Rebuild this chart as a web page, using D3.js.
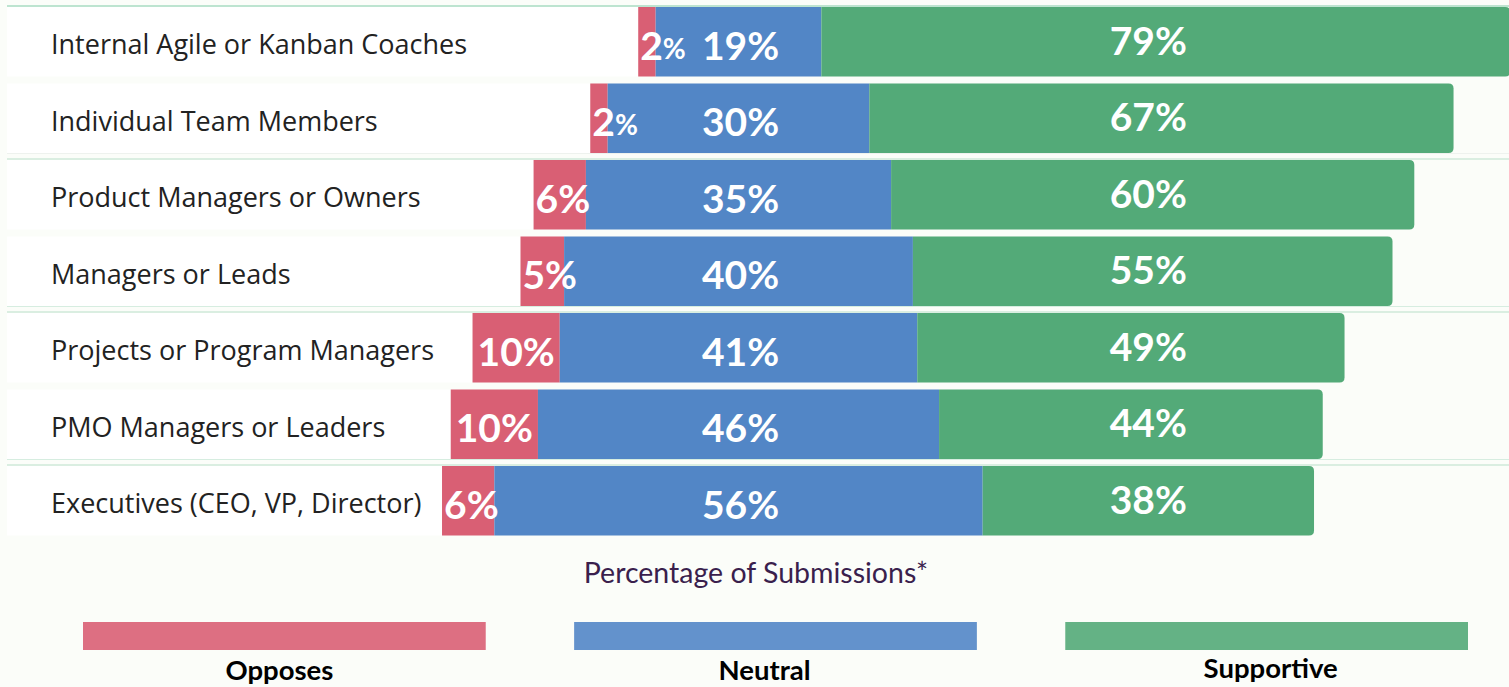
<!DOCTYPE html>
<html>
<head>
<meta charset="utf-8">
<script src="https://cdn.jsdelivr.net/npm/d3@7"></script>
<style>
  html, body { margin: 0; padding: 0; background: #fbfdf9; }
  svg { display: block; }
</style>
</head>
<body>
<svg id="chart" width="1509" height="687"></svg>
<script>
// ---- data ----
const categories = [
  "Internal Agile or Kanban Coaches",
  "Individual Team Members",
  "Product Managers or Owners",
  "Managers or Leads",
  "Projects or Program Managers",
  "PMO Managers or Leaders",
  "Executives (CEO, VP, Director)"
];
const opposes    = [2, 2, 6, 5, 10, 10, 6];
const neutral    = [19, 30, 35, 40, 41, 46, 56];
const supportive = [79, 67, 60, 55, 49, 44, 38];
const seriesNames = ["Opposes", "Neutral", "Supportive"];
const axisTitle = "Percentage of Submissions*";

// ---- styles ----
const colors = { Opposes: "#d95f74", Neutral: "#5286c6", Supportive: "#53aa78" };
const W = 1509, H = 687;
const svg = d3.select("#chart");

svg.append("rect").attr("width", W).attr("height", H).attr("fill", "#fbfdf9");

const rows = categories.map((c, i) => ({
  cat: c, opp: opposes[i], neu: neutral[i], sup: supportive[i], i
}));

const y = d3.scaleBand().domain(categories).range([7, 535.5]).paddingInner(0.0915).paddingOuter(0);
const x = d3.scaleLinear().domain([-60, 90]).range([738.5 - 60 * 8.72, 738.5 + 90 * 8.72]);

// row white bands
svg.append("g").selectAll("rect").data(rows).join("rect")
  .attr("x", 7)
  .attr("y", d => y(d.cat))
  .attr("width", d => x(-d.neu / 2 - d.opp) - 7)
  .attr("height", y.bandwidth())
  .attr("fill", "#ffffff");

// separator lines
const sep = svg.append("g");
sep.append("line").attr("x1", 7).attr("x2", W).attr("y1", y(categories[0]) - 1).attr("y2", y(categories[0]) - 1)
  .attr("stroke", "#a9dbc2").attr("stroke-width", 1.5);
[1, 3, 5].forEach(i => {
  const b = y(categories[i]) + y.bandwidth();
  const t = y(categories[i + 1]);
  sep.append("line").attr("x1", 7).attr("x2", W).attr("y1", b + 0.5).attr("y2", b + 0.5)
    .attr("stroke", i === 1 ? "#eef2ee" : "#d6ede0").attr("stroke-width", 1);
  sep.append("line").attr("x1", 7).attr("x2", W).attr("y1", t - 1).attr("y2", t - 1)
    .attr("stroke", "#cfe8d9").attr("stroke-width", 1.5);
});

// category labels
svg.append("g").selectAll("text").data(rows).join("text")
  .attr("x", 51)
  .attr("y", d => y(d.cat) + y.bandwidth() / 2 + 2)
  .attr("dominant-baseline", "central")
  .attr("font-family", "'Open Sans', Lato, sans-serif")
  .attr("font-size", 27)
  .attr("fill", "#222222")
  .text(d => d.cat);

// bars
const bars = svg.append("g");
bars.selectAll(".opp").data(rows).join("rect").attr("class", "opp")
  .attr("x", d => x(-d.neu / 2 - d.opp))
  .attr("y", d => y(d.cat))
  .attr("width", d => x(-d.neu / 2) - x(-d.neu / 2 - d.opp))
  .attr("height", y.bandwidth())
  .attr("fill", colors.Opposes);
bars.selectAll(".neu").data(rows).join("rect").attr("class", "neu")
  .attr("x", d => x(-d.neu / 2))
  .attr("y", d => y(d.cat))
  .attr("width", d => x(d.neu / 2) - x(-d.neu / 2))
  .attr("height", y.bandwidth())
  .attr("fill", colors.Neutral);
function rightRounded(x0, y0, w, h, r) {
  return `M${x0},${y0}H${x0 + w - r}Q${x0 + w},${y0} ${x0 + w},${y0 + r}V${y0 + h - r}Q${x0 + w},${y0 + h} ${x0 + w - r},${y0 + h}H${x0}Z`;
}
bars.selectAll(".sup").data(rows).join("path").attr("class", "sup")
  .attr("d", d => rightRounded(x(d.neu / 2), y(d.cat), x(d.neu / 2 + d.sup) - x(d.neu / 2), y.bandwidth(), 5))
  .attr("fill", colors.Supportive);

// value labels
const lab = svg.append("g")
  .attr("font-family", "Lato, 'Open Sans', sans-serif")
  .attr("font-weight", "bold")
  .attr("font-size", 39)
  .attr("fill", "#ffffff")
  .attr("dominant-baseline", "central");

lab.selectAll(".neuL").data(rows).join("text").attr("class", "neuL")
  .attr("x", x(0) + 2)
  .attr("y", d => y(d.cat) + y.bandwidth() / 2 + 3)
  .attr("text-anchor", "middle")
  .text(d => d.neu + "%");

lab.selectAll(".supL").data(rows).join("text").attr("class", "supL")
  .attr("x", x(47))
  .attr("y", d => y(d.cat) + y.bandwidth() / 2 - 2)
  .attr("text-anchor", "middle")
  .text(d => d.sup + "%");

lab.selectAll(".oppL").data(rows).join("text").attr("class", "oppL")
  .attr("y", d => y(d.cat) + y.bandwidth() / 2 + 3)
  .each(function(d) {
    const t = d3.select(this);
    const narrow = d.opp < 4;
    if (narrow) {
      t.append("tspan").text(String(d.opp));
      t.append("tspan").attr("font-size", 28).attr("dy", 3).text("%");
    } else {
      t.text(d.opp + "%");
    }
    const w = this.getComputedTextLength();
    const x0 = x(-d.neu / 2 - d.opp), x1 = x(-d.neu / 2);
    const cx = (x0 + x1) / 2;
    const left = Math.max(x0 + 2, cx - w / 2);
    t.attr("x", left);
  });

// axis title
svg.append("text")
  .attr("x", x(2))
  .attr("y", 572)
  .attr("dominant-baseline", "central")
  .attr("text-anchor", "middle")
  .attr("font-family", "Lato, 'Open Sans', sans-serif")
  .attr("font-size", 28.5)
  .attr("fill", "#3a1f4d")
  .text(axisTitle);

// legend
const lx = d3.scaleBand().domain(seriesNames).range([83, 1468]).paddingInner(0.18);
const labelShift = [-5, -11, 4];
const leg = svg.append("g");
leg.selectAll("rect").data(seriesNames).join("rect")
  .attr("x", d => lx(d))
  .attr("y", 622)
  .attr("width", lx.bandwidth())
  .attr("height", 28)
  .attr("fill", d => colors[d])
  .attr("fill-opacity", 0.9);
leg.selectAll("text").data(seriesNames).join("text")
  .attr("x", (d, i) => lx(d) + lx.bandwidth() / 2 + labelShift[i])
  .attr("y", (d, i) => i === 2 ? 667 : 669)
  .attr("dominant-baseline", "central")
  .attr("text-anchor", "middle")
  .attr("font-family", "Lato, 'Open Sans', sans-serif")
  .attr("font-weight", "bold")
  .attr("font-size", 27.5)
  .attr("fill", "#000000")
  .text(d => d);
</script>
</body>
</html>
